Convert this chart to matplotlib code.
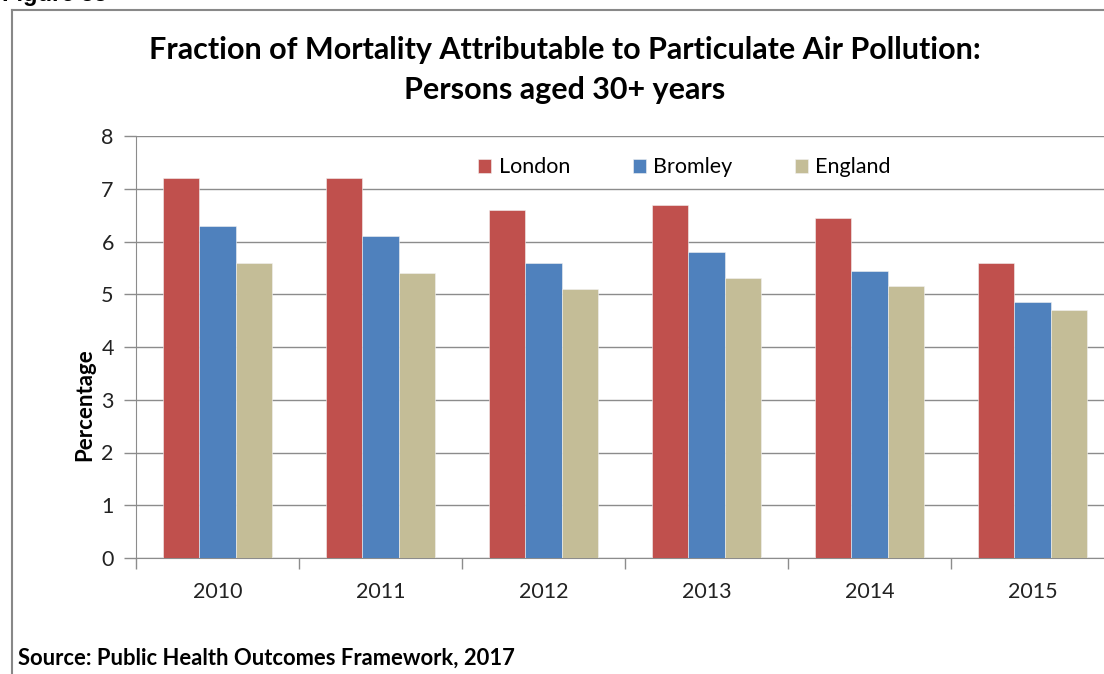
import matplotlib
matplotlib.use("Agg")
import matplotlib.pyplot as plt
import numpy as np
from matplotlib.lines import Line2D

years = ["2010", "2011", "2012", "2013", "2014", "2015"]
london = [7.2, 7.2, 6.6, 6.7, 6.45, 5.6]
bromley = [6.3, 6.1, 5.6, 5.8, 5.45, 4.85]
england = [5.6, 5.4, 5.1, 5.3, 5.15, 4.7]
series_names = ["London", "Bromley", "England"]
colors = ["#C0504D", "#4F81BD", "#C4BD97"]
yticks = [0, 1, 2, 3, 4, 5, 6, 7, 8]

plt.rcParams['font.family'] = ['Lato', 'DejaVu Sans']

W, H = 1104, 674
fig = plt.figure(figsize=(W / 100, H / 100), dpi=100)

ax = fig.add_axes([136 / W, 1 - 558 / H, 978 / W, 422 / H])

x = np.arange(len(years))
bw = 0.223
for i, (vals, name, c) in enumerate(zip([london, bromley, england], series_names, colors)):
    ax.bar(x + (i - 1) * bw, vals, width=bw, color=c, label=name,
           edgecolor="#f2f2f2", linewidth=0.4, zorder=3)

ax.set_xlim(-0.5, len(years) - 0.5)
ax.set_ylim(0, 8)
ax.set_yticks(yticks)
ax.set_yticklabels([str(v) for v in yticks], fontsize=15.5, color="#222222")
ax.set_xticks(x)
ax.set_xticklabels(years, fontsize=15.5, color="#222222")
ax.set_xticks(np.arange(len(years) + 1) - 0.5, minor=True)
ax.tick_params(axis='x', which='major', length=0, pad=17)
ax.tick_params(axis='x', which='minor', length=8, color="#8c8c8c", width=1)
ax.tick_params(axis='y', length=9, color="#8c8c8c", width=1, pad=7)
ax.grid(axis='y', color="#8c8c8c", linewidth=1, zorder=0)
for s in ['top', 'right']:
    ax.spines[s].set_visible(False)
ax.spines['left'].set_color("#8c8c8c")
ax.spines['bottom'].set_color("#8c8c8c")
ax.set_ylabel("Percentage", fontsize=16, fontweight='bold', labelpad=6)
ax.yaxis.set_label_coords((95 - 136) / 978, (558 - 405) / 422)

leg = ax.legend(loc='upper center', bbox_to_anchor=(0.561, 0.985), ncol=3,
                frameon=False, fontsize=15.5, handlelength=0.6, handleheight=0.6,
                columnspacing=2.9, handletextpad=0.35, borderpad=0.2)

fig.text(565 / W, 1 - 50 / H, "Fraction of Mortality Attributable to Particulate Air Pollution:",
         ha='center', va='center', fontsize=22, fontweight='bold')
fig.text(565 / W, 1 - 90 / H, "Persons aged 30+ years",
         ha='center', va='center', fontsize=22, fontweight='bold')
fig.text(18 / W, 1 - 658 / H, "Source: Public Health Outcomes Framework, 2017",
         ha='left', va='center', fontsize=15.8, fontweight='bold')
fig.text(2 / W, 1 - (-6) / H, "Figure 55", ha='left', va='center',
         fontsize=17, fontweight='bold', family=['Liberation Sans', 'DejaVu Sans'])

fig.add_artist(Line2D([12 / W, 12 / W], [0, 1 - 10 / H], transform=fig.transFigure,
                      color="#888888", linewidth=1.5))
fig.add_artist(Line2D([12 / W, 1], [1 - 10 / H, 1 - 10 / H], transform=fig.transFigure,
                      color="#888888", linewidth=1.5))

fig.savefig("out.png", dpi=100)
